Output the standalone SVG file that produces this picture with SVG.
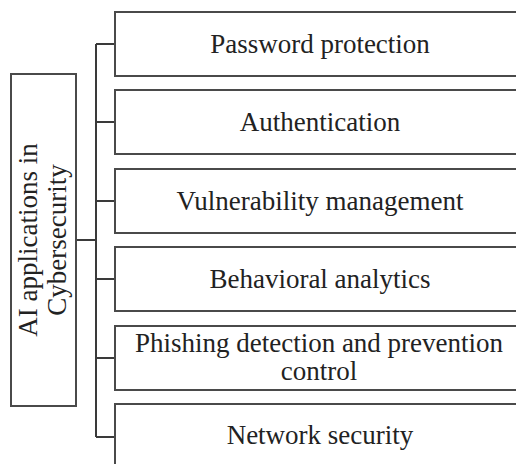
<svg xmlns="http://www.w3.org/2000/svg" width="516" height="464" viewBox="0 0 516 464">
<style>
.box{fill:#fff;stroke:#4a4a4a;stroke-width:2}
.ln{fill:none;stroke:#3a3a3a;stroke-width:2}
.t{font-family:"Liberation Serif","Times New Roman",serif;font-size:27px;fill:#222;text-anchor:middle}
</style>
<rect width="516" height="464" fill="#fff"/>
<g id="connectors">
<path class="ln" d="M76,240 H96 M96,44 V437 M96,44 H115 M96,122 H115 M96,201 H115 M96,279 H115 M96,358 H115 M96,437 H115"/>
</g>
<g id="root">
<rect class="box" x="11" y="74" width="65" height="332"/>
<text class="t" transform="translate(37,240) rotate(-90)">AI applications in</text>
<text class="t" transform="translate(66,240) rotate(-90)">Cybersecurity</text>
</g>
<g id="n1"><rect class="box" x="115" y="12" width="420" height="64"/><text class="t" x="320" y="53">Password protection</text></g>
<g id="n2"><rect class="box" x="115" y="90" width="420" height="64"/><text class="t" x="320" y="131">Authentication</text></g>
<g id="n3"><rect class="box" x="115" y="169" width="420" height="64"/><text class="t" x="320" y="210">Vulnerability management</text></g>
<g id="n4"><rect class="box" x="115" y="247" width="420" height="64"/><text class="t" x="320" y="288">Behavioral analytics</text></g>
<g id="n5"><rect class="box" x="115" y="326" width="420" height="64"/><text class="t" x="319" y="352">Phishing detection and prevention</text><text class="t" x="319" y="380">control</text></g>
<g id="n6"><rect class="box" x="115" y="404" width="420" height="64"/><text class="t" x="320" y="444">Network security</text></g>
</svg>
